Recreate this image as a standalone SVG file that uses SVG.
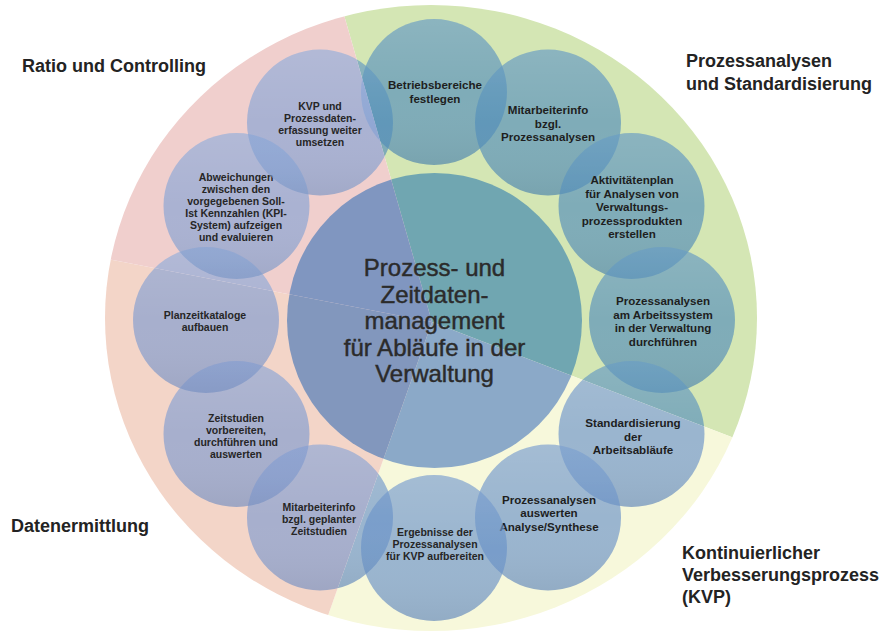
<svg xmlns="http://www.w3.org/2000/svg" width="891" height="637" viewBox="0 0 891 637">
<style>
.lbl{font-family:"Liberation Sans",Arial,sans-serif;font-weight:bold;font-size:18px;fill:#232323}
.ct{font-family:"Liberation Sans",Arial,sans-serif;font-size:24px;fill:#2b2b2b;stroke:#2b2b2b;stroke-width:0.45px;text-anchor:middle}
.st{font-family:"Liberation Sans",Arial,sans-serif;font-weight:bold;font-size:11.6px;fill:#1e1e1e;text-anchor:middle}
.sl{font-family:"Liberation Sans",Arial,sans-serif;font-weight:bold;font-size:10.5px;fill:#262626;text-anchor:middle}
.node circle{fill:url(#cf);fill-opacity:0.65}
.node circle.sh{fill:url(#shade);fill-opacity:1}
</style>
<defs>
<clipPath id="outer"><ellipse cx="431" cy="318" rx="326" ry="313"/></clipPath>
<linearGradient id="shade" x1="0" y1="0" x2="0" y2="1">
<stop offset="0" stop-color="#ffffff" stop-opacity="0.10"/>
<stop offset="0.5" stop-color="#ffffff" stop-opacity="0"/>
<stop offset="1" stop-color="#000000" stop-opacity="0.05"/>
</linearGradient>
<pattern id="cf" patternUnits="userSpaceOnUse" x="0" y="0" width="891" height="637">
<polygon points="432,322 239.1,-350.9 782,-284.2 1121.4,200.4 1085.5,572.9" fill="#518dba"/>
<polygon points="432,322 1085.5,572.9 727.8,956.4 198.3,981.8" fill="#6891c8"/>
<polygon points="432,322 198.3,981.8 -174.2,672 -255.1,188.4" fill="#7f9ad0"/>
<polygon points="432,322 -255.1,188.4 239.1,-350.9" fill="#84a2d5"/>
</pattern>
<pattern id="mf" patternUnits="userSpaceOnUse" x="0" y="0" width="891" height="637">
<polygon points="432,322 239.1,-350.9 782,-284.2 1121.4,200.4 1085.5,572.9" fill="#70a6b1"/>
<polygon points="432,322 1085.5,572.9 727.8,956.4 198.3,981.8" fill="#8ba9c8"/>
<polygon points="432,322 198.3,981.8 -174.2,672 -255.1,188.4" fill="#8297bd"/>
<polygon points="432,322 -255.1,188.4 239.1,-350.9" fill="#8096c0"/>
</pattern>
</defs>
<rect width="891" height="637" fill="#ffffff"/>
<g id="sectors" clip-path="url(#outer)">
<polygon points="432,322 239.1,-350.9 782,-284.2 1121.4,200.4 1085.5,572.9" fill="#d4e6b4"/>
<polygon points="432,322 1085.5,572.9 727.8,956.4 198.3,981.8" fill="#f7f8db"/>
<polygon points="432,322 198.3,981.8 -174.2,672 -255.1,188.4" fill="#f3d5c8"/>
<polygon points="432,322 -255.1,188.4 239.1,-350.9" fill="#f0cfcd"/>
</g>
<g id="labels">
<text class="lbl" x="22" y="72">Ratio und Controlling</text>
<text class="lbl" x="686" y="67">Prozessanalysen</text>
<text class="lbl" x="686" y="90">und Standardisierung</text>
<text class="lbl" x="11" y="532">Datenermittlung</text>
<text class="lbl" x="682" y="559">Kontinuierlicher</text>
<text class="lbl" x="682" y="581">Verbesserungsprozess</text>
<text class="lbl" x="682" y="603">(KVP)</text>
</g>
<g id="center">
<circle cx="434.5" cy="320.5" r="147.5" fill="url(#mf)"/>
<text class="ct" x="434.5" y="276">Prozess- und</text>
<text class="ct" x="434.5" y="302.5">Zeitdaten-</text>
<text class="ct" x="434.5" y="329">management</text>
<text class="ct" x="434.5" y="355.5">für Abläufe in der</text>
<text class="ct" x="434.5" y="382">Verwaltung</text>
</g>
<g id="connectors"></g>
<g id="n1" class="node"><circle cx="434" cy="92" r="73"/><circle class="sh" cx="434" cy="92" r="73"/>
<text class="st" x="435" y="89">Betriebsbereiche</text><text class="st" x="435" y="103">festlegen</text></g>
<g id="n2" class="node"><circle cx="548" cy="122.5" r="73"/><circle class="sh" cx="548" cy="122.5" r="73"/>
<text class="st" x="548" y="114">Mitarbeiterinfo</text><text class="st" x="548" y="127.5">bzgl.</text><text class="st" x="548" y="141">Prozessanalysen</text></g>
<g id="n3" class="node"><circle cx="631.5" cy="206" r="73"/><circle class="sh" cx="631.5" cy="206" r="73"/>
<text class="st" x="632" y="184">Aktivitätenplan</text><text class="st" x="632" y="197.5">für Analysen von</text><text class="st" x="632" y="211">Verwaltungs-</text><text class="st" x="632" y="224.5">prozessprodukten</text><text class="st" x="632" y="238">erstellen</text></g>
<g id="n4" class="node"><circle cx="662" cy="320" r="73"/><circle class="sh" cx="662" cy="320" r="73"/>
<text class="st" x="663" y="305">Prozessanalysen</text><text class="st" x="663" y="318.5">am Arbeitssystem</text><text class="st" x="663" y="332">in der Verwaltung</text><text class="st" x="663" y="345.5">durchführen</text></g>
<g id="n5" class="node"><circle cx="631.5" cy="434" r="73"/><circle class="sh" cx="631.5" cy="434" r="73"/>
<text class="st" x="633" y="427">Standardisierung</text><text class="st" x="633" y="440.5">der</text><text class="st" x="633" y="454">Arbeitsabläufe</text></g>
<g id="n6" class="node"><circle cx="548" cy="517.5" r="73"/><circle class="sh" cx="548" cy="517.5" r="73"/>
<text class="st" x="549" y="503.5">Prozessanalysen</text><text class="st" x="549" y="517">auswerten</text><text class="st" x="549" y="530.5">Analyse/Synthese</text></g>
<g id="n7" class="node"><circle cx="434" cy="548" r="73"/><circle class="sh" cx="434" cy="548" r="73"/>
<text class="sl" x="435" y="536">Ergebnisse der</text><text class="sl" x="435" y="548">Prozessanalysen</text><text class="sl" x="435" y="560">für KVP aufbereiten</text></g>
<g id="n8" class="node"><circle cx="320" cy="517.5" r="73"/><circle class="sh" cx="320" cy="517.5" r="73"/>
<text class="sl" x="319" y="511">Mitarbeiterinfo</text><text class="sl" x="319" y="523">bzgl. geplanter</text><text class="sl" x="319" y="535">Zeitstudien</text></g>
<g id="n9" class="node"><circle cx="236.5" cy="434" r="73"/><circle class="sh" cx="236.5" cy="434" r="73"/>
<text class="sl" x="236" y="422">Zeitstudien</text><text class="sl" x="236" y="434">vorbereiten,</text><text class="sl" x="236" y="446">durchführen und</text><text class="sl" x="236" y="458">auswerten</text></g>
<g id="n10" class="node"><circle cx="206" cy="320" r="73"/><circle class="sh" cx="206" cy="320" r="73"/>
<text class="sl" x="205" y="319">Planzeitkataloge</text><text class="sl" x="205" y="331">aufbauen</text></g>
<g id="n11" class="node"><circle cx="236.5" cy="206" r="73"/><circle class="sh" cx="236.5" cy="206" r="73"/>
<text class="sl" x="236" y="181">Abweichungen</text><text class="sl" x="236" y="193">zwischen den</text><text class="sl" x="236" y="205">vorgegebenen Soll-</text><text class="sl" x="236" y="217">Ist Kennzahlen (KPI-</text><text class="sl" x="236" y="229">System) aufzeigen</text><text class="sl" x="236" y="241">und evaluieren</text></g>
<g id="n12" class="node"><circle cx="320" cy="122.5" r="73"/><circle class="sh" cx="320" cy="122.5" r="73"/>
<text class="sl" x="320" y="110">KVP und</text><text class="sl" x="320" y="122">Prozessdaten-</text><text class="sl" x="320" y="134">erfassung weiter</text><text class="sl" x="320" y="146">umsetzen</text></g>
</svg>
